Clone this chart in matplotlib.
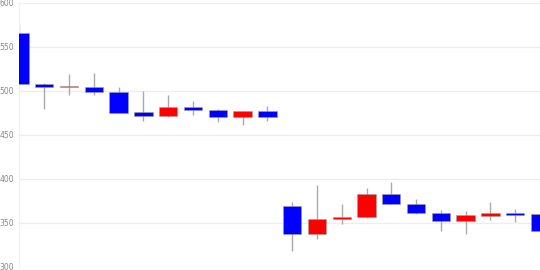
import matplotlib
matplotlib.use("Agg")
import matplotlib.pyplot as plt

# daily candles
opens  = [566, 508, 504, 505, 499, 476, 472, 482, 478, 471, 477,
          369, 337, 355, 356.5, 383, 372, 361, 352, 358.5, 361, 360]
closes = [508, 504, 505, 499, 475.5, 472, 482, 478, 471, 477, 470.5,
          337, 355, 357, 383, 372, 361, 352, 359, 361, 359.5, 341]
highs  = [575, 509, 519, 521, 504, 500, 496, 489, 480, 477, 483,
          374, 393, 372, 390, 397, 377, 365, 364, 374, 366, 360]
lows   = [507, 480, 496, 496, 475, 466, 471, 473, 465, 461, 466,
          318, 332, 349, 356, 372, 360, 341, 338, 353.5, 351, 341]
yticks = [300, 350, 400, 450, 500, 550, 600]

fig = plt.figure(figsize=(5.4, 2.7), dpi=100)
ax = fig.add_axes([19.5/540, 3/270, 1 - 19.5/540, 264/270])

w = 0.74
for i in range(len(opens)):
    o, c = opens[i], closes[i]
    col = "#ff0000" if c >= o else "#0000ff"
    ax.vlines(i, lows[i], highs[i], color="#aaaaaa", lw=1, zorder=2)
    bottom = min(o, c)
    h = max(abs(c - o), 1.6)
    ax.bar(i, h, bottom=bottom, width=w, color=col, edgecolor="#a0a0a0",
           linewidth=0.4, zorder=3)

ax.set_xlim(0, 21)
ax.set_ylim(300, 600)
ax.set_yticks(yticks)
ax.set_yticklabels([str(t) for t in yticks], fontsize=5.5, color="#888888")
ax.tick_params(axis="y", length=0, pad=4)
ax.set_xticks([])
ax.grid(axis="y", color="#eeeeee", lw=1, zorder=0)
for s in ["top", "right", "bottom"]:
    ax.spines[s].set_visible(False)
ax.spines["left"].set_color("#f0f0f0")

fig.savefig("out.png", dpi=100)
plt.close("all")
